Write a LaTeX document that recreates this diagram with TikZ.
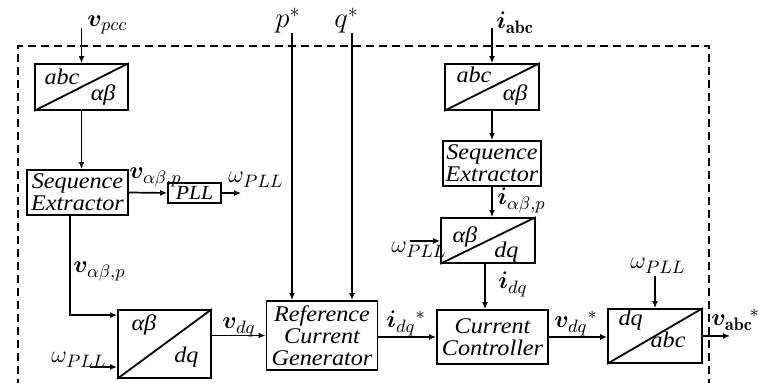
\documentclass[tikz,border=0pt]{standalone}
\usepackage{amsmath,bm}
\usepackage{fontspec}
\newfontfamily\blkfont[FakeStretch=1.08]{Liberation Serif}
\usetikzlibrary{arrows.meta,calc}
\DeclareMathSizes{12}{12}{9}{7}
\newcommand\blktxt{\blkfont\itshape\fontsize{11.2}{11}\selectfont}
\newcommand\lbltxt{\fontsize{12}{14}\selectfont}
\begin{document}
\begin{tikzpicture}[x=0.5pt,y=-0.5pt,
  blk/.style={draw, line width=0.9pt, inner sep=0pt, font=\blktxt, align=center},
  sz/.style 2 args={minimum width={#1*0.5pt}, minimum height={#2*0.5pt}},
  diag/.style={line width=0.9pt},
  arr/.style={-{Latex[length=3.5pt,width=3pt]}, line width=0.85pt},
  lbl/.style={inner sep=0pt, font=\lbltxt},
  biglbl/.style={inner sep=0pt, font=\fontsize{14.4}{16}\selectfont},
  tl/.style={inner sep=0pt, font=\blktxt, anchor=base west},
  br/.style={inner sep=0pt, font=\blktxt, anchor=base east},
  frame/.style={dash pattern=on 4pt off 2.5pt, line width=0.75pt}]
\useasboundingbox (0,0) rectangle (760,383);

% dashed frame
\draw[frame] (18,400) -- (18,46) -- (709,46) -- (709,400);

% blocks
\node[blk, sz={93}{46}] (A1) at (81.5,87) {};
\node[blk, sz={101}{45}] (S1) at (77.5,192.5) {Sequence\\Extractor};
\node[blk, sz={53}{20}, font=\blkfont\itshape\fontsize{10}{10}\selectfont] (PLL) at (194.5,193) {PLL};
\node[blk, sz={93}{68}] (B1) at (164.5,344) {};
\node[blk, sz={111}{69}] (R) at (322,335.5) {Reference\\Current\\Generator};
\node[blk, sz={111}{54}] (C) at (492.5,337) {Current\\Controller};
\node[blk, sz={94}{46}] (A2) at (492,87) {};
\node[blk, sz={98}{45}] (S2) at (492,163.5) {Sequence\\Extractor};
\node[blk, sz={94}{45}] (B2) at (488,240.5) {};
\node[blk, sz={94}{54}] (D) at (655,336) {};

% diagonals and inner labels
\draw[diag] (A1.south west) -- (A1.north east);
\node[tl] at ([shift={(10,21)}]A1.north west) {abc};
\node[br] at ([shift={(-13,-10)}]A1.south east) {αβ};
\draw[diag] (B1.south west) -- (B1.north east);
\node[tl] at ([shift={(14,21)}]B1.north west) {αβ};
\node[br] at ([shift={(-13,-16)}]B1.south east) {dq};
\draw[diag] (A2.south west) -- (A2.north east);
\node[tl] at ([shift={(12,19)}]A2.north west) {abc};
\node[br] at ([shift={(-12,-10)}]A2.south east) {αβ};
\draw[diag] (B2.south west) -- (B2.north east);
\node[tl] at ([shift={(12,25)}]B2.north west) {αβ};
\node[br] at ([shift={(-17,-6)}]B2.south east) {dq};
\draw[diag] (D.south west) -- (D.north east);
\node[tl] at ([shift={(11,17)}]D.north west) {dq};
\node[br] at ([shift={(-17,-16)}]D.south east) {abc};

% free ends
\coordinate (vin) at (81.5,28);
\coordinate (pllout) at (241,193);
\coordinate (w1) at (90,367);
\coordinate (pin) at (292,33);
\coordinate (qin) at (352,33);
\coordinate (iin) at (492,28);
\coordinate (w2) at (410,241);
\coordinate (w3) at (655,276);
\coordinate (vout) at (730,336);

% connectors
\draw[arr] (vin) -- (A1.north);
\draw[arr] (A1.south) -- (A1.south |- S1.north);
\draw[arr] (S1.east) -- (PLL.west);
\draw[arr] (PLL.east) -- (pllout);
\draw[arr] ([xshift=-3.75pt]S1.south) |- ([yshift=-3pt]B1.north west);
\draw[arr] (w1) -- (w1 -| B1.west);
\draw[arr] (B1.east |- R.west) -- (R.west);
\draw[arr] (pin) -- (pin |- R.north);
\draw[arr] (qin) -- (qin |- R.north);
\draw[arr] (R.east |- C.west) -- (C.west);
\draw[arr] (iin) -- (A2.north);
\draw[arr] (A2.south) -- (S2.north);
\draw[arr] (S2.south) -- (S2.south |- B2.north);
\draw[arr] (w2) -- (w2 -| B2.west);
\draw[arr] ([xshift=-1.5pt]B2.south) -- ([xshift=-1.5pt]B2.south |- C.north);
\draw[arr] (C.east) -- (C.east -| D.west);
\draw[arr] (w3) -- (D.north);
\draw[arr] (D.east) -- (vout);

% labels
\node[lbl, anchor=base west] at (87,27) {$\bm{v}_{pcc}$};
\node[lbl, anchor=base west] at (129,179) {$\bm{v}_{\alpha\beta,p}$};
\node[lbl, anchor=base west] at (228,183) {$\omega_{PLL}$};
\node[lbl, anchor=base west] at (73,273) {$\bm{v}_{\alpha\beta,p}$};
\node[lbl, anchor=base west] at (51,363) {$\omega_{PLL}$};
\node[lbl, anchor=base west] at (222,329) {$\bm{v}_{dq}$};
\node[biglbl, anchor=base west] at (275,28) {$p^*$};
\node[biglbl, anchor=base west] at (334,28) {$q^*$};
\node[lbl, anchor=base west] at (386,328) {$\bm{i}_{dq}{}^*$};
\node[lbl, anchor=base west] at (496,29) {$\bm{i}_{\mathbf{abc}}$};
\node[lbl, anchor=base west] at (497,205) {$\bm{i}_{\alpha\beta,p}$};
\node[lbl, anchor=base west] at (391,253) {$\omega_{PLL}$};
\node[lbl, anchor=base west] at (498,289) {$\bm{i}_{dq}$};
\node[lbl, anchor=base west] at (554,328) {$\bm{v}_{dq}{}^*$};
\node[lbl, anchor=base west] at (630,269) {$\omega_{PLL}$};
\node[lbl, anchor=base west] at (711,326) {$\bm{v}_{\mathbf{abc}}{}^{\!*}$};
\end{tikzpicture}
\end{document}
